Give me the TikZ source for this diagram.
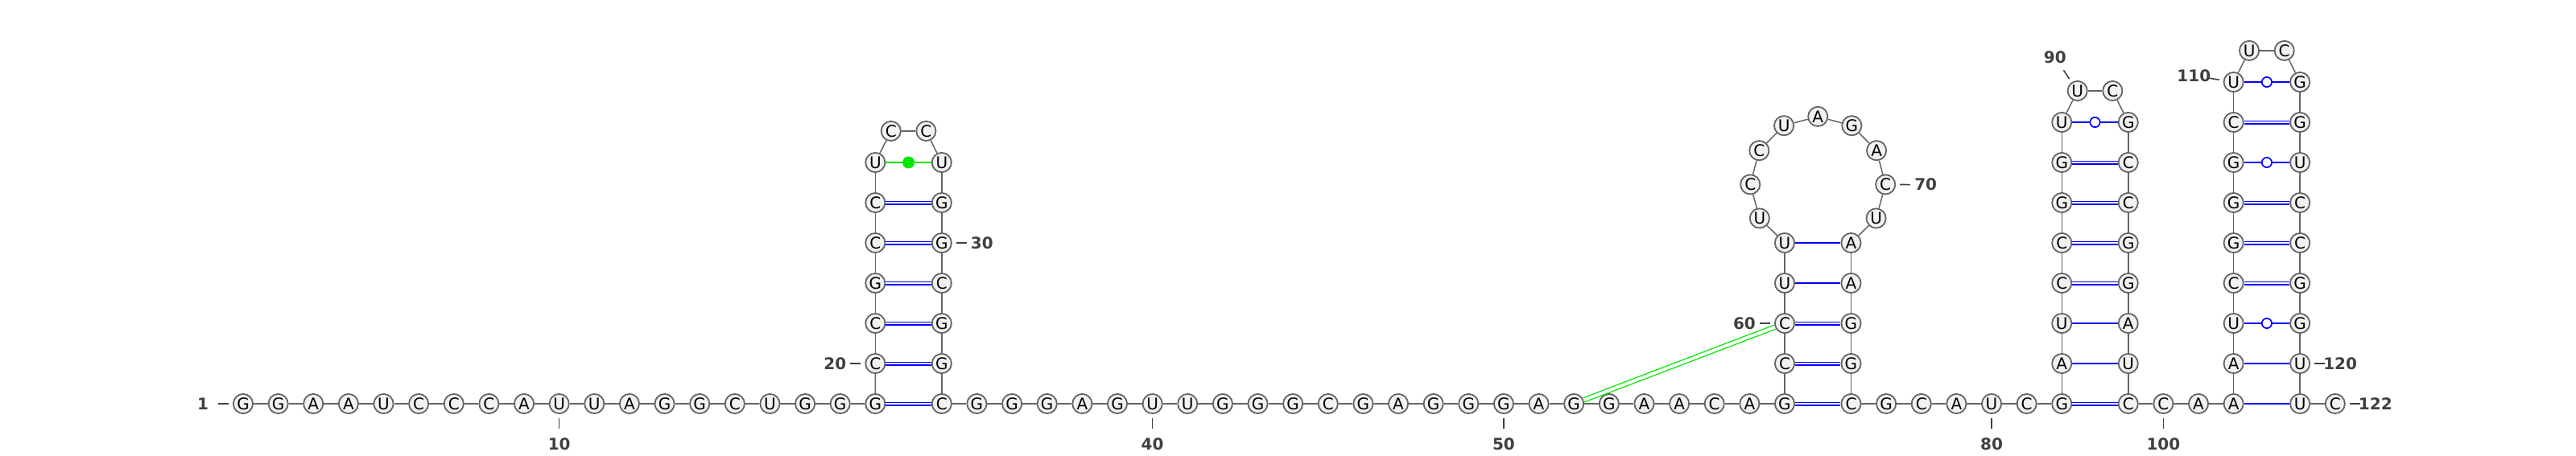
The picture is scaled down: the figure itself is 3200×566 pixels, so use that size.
\documentclass[tikz,border=0pt]{standalone}
\usepackage{fontspec}
\setmainfont{DejaVu Sans}
\usetikzlibrary{calc}
\definecolor{bbgray}{RGB}{100,100,100}
\definecolor{nfill}{RGB}{242,242,242}
\definecolor{numgray}{RGB}{64,64,64}
\definecolor{pairblue}{RGB}{0,0,255}
\definecolor{pkgreen}{RGB}{0,230,0}
\newcommand{\numlabel}[3]{%
  \coordinate (ta#3) at ($(#1)+(#2:18)$);
  \coordinate (tb#3) at ($(#1)+(#2:31)$);
  \draw[tickline] (ta#3) -- (tb#3);
  \node[numlab] (lab#3) at ($(#1)+(#2:50)$) {#3};}
\begin{document}
\begin{tikzpicture}[x=1pt,y=-1pt,
  base/.style={circle,draw=bbgray,fill=nfill,line width=1.8pt,minimum size=24.2pt,inner sep=0pt,font=\fontsize{20}{22}\selectfont},
  backbone/.style={draw=bbgray,line width=1.5pt},
  pairsingle/.style={draw=pairblue,line width=1.8pt},
  pairdouble/.style={draw=pairblue,line width=1.3pt,double=white,double distance=2.4pt},
  pkline/.style={draw=pkgreen,line width=1.8pt},
  pkdouble/.style={draw=pkgreen,line width=1.3pt,double=white,double distance=4pt},
  wob/.style={circle,draw=pairblue,fill=white,line width=1.7pt,minimum size=12.3pt,inner sep=0pt},
  gdot/.style={circle,fill=pkgreen,minimum size=15pt,inner sep=0pt},
  numlab/.style={font=\fontsize{20}{22}\selectfont\bfseries,text=numgray,inner sep=0pt},
  tickline/.style={draw=numgray,line width=1.6pt}]
\useasboundingbox (0,0) rectangle (3200,566);
% 1..19
\foreach \b [count=\i from 1] in {G,G,A,A,U,C,C,C,A,U,U,A,G,G,C,U,G,G,G}
  \node[base] (n\i) at ({302+(\i-1)*43.63},502) {\b};
% stem 1
\foreach \b [count=\i from 20] in {C,C,G,C,C,U}
  \node[base] (n\i) at (1087.34,{502-(\i-19)*50}) {\b};
\node[base] (n26) at (1106.78,162.94) {C};
\node[base] (n27) at (1150.40,162.94) {C};
\foreach \b [count=\i from 28] in {U,G,G,C,G,G,C}
  \node[base] (n\i) at (1169.84,{202+(\i-28)*50}) {\b};
% 35..57
\foreach \b [count=\i from 35] in {G,G,G,A,G,U,U,G,G,G,C,G,A,G,G,G,A,G,G,A,A,C,A}
  \node[base] (n\i) at ({1169.84+(\i-34)*43.63},502) {\b};
% stem 2
\foreach \b [count=\i from 58] in {G,C,C,U,U}
  \node[base] (n\i) at (2216.96,{502-(\i-58)*50}) {\b};
\foreach \b [count=\i from 63] in {U,C,C,U,A,G,A,C,U}
  \node[base] (n\i) at ($(2258.21,228.86)+({119.42+(\i-62)*30.117}:83.97)$) {\b};
\foreach \b [count=\i from 72] in {A,A,G,G,C}
  \node[base] (n\i) at (2299.46,{302+(\i-72)*50}) {\b};
% 77..81
\foreach \b [count=\i from 77] in {G,C,A,U,C}
  \node[base] (n\i) at ({2299.46+(\i-76)*43.63},502) {\b};
% stem 3
\foreach \b [count=\i from 82] in {G,A,U,C,C,G,G,U}
  \node[base] (n\i) at (2561.24,{502-(\i-82)*50}) {\b};
\node[base] (n90) at (2580.68,112.94) {U};
\node[base] (n91) at (2624.30,112.94) {C};
\foreach \b [count=\i from 92] in {G,C,C,G,G,A,U,C}
  \node[base] (n\i) at (2643.74,{152+(\i-92)*50}) {\b};
% 100..101
\foreach \b [count=\i from 100] in {C,A}
  \node[base] (n\i) at ({2643.74+(\i-99)*43.63},502) {\b};
% stem 4
\foreach \b [count=\i from 102] in {A,A,U,C,G,G,G,C,U}
  \node[base] (n\i) at (2774.63,{502-(\i-102)*50}) {\b};
\node[base] (n111) at (2794.07,62.94) {U};
\node[base] (n112) at (2837.69,62.94) {C};
\foreach \b [count=\i from 113] in {G,G,U,C,C,G,G,U,U}
  \node[base] (n\i) at (2857.13,{102+(\i-113)*50}) {\b};
\node[base] (n122) at (2900.76,502) {C};
% backbone
\foreach \i [evaluate=\i as \j using int(\i+1)] in {1,...,121}
  \draw[backbone] (n\i) -- (n\j);
% canonical GC pairs
\foreach \a/\c in {19/34,20/33,21/32,22/31,23/30,24/29,58/76,59/75,60/74,82/99,85/96,86/95,87/94,88/93,105/118,106/117,107/116,109/114}
  \draw[pairdouble] (n\a) -- (n\c);
% AU pairs
\foreach \a/\c in {61/73,62/72,83/98,84/97,102/121,103/120}
  \draw[pairsingle] (n\a) -- (n\c);
% GU wobble pairs
\foreach \a/\c in {89/92,104/119,108/115,110/113}
  \draw[pairsingle] (n\a) -- (n\c) node[wob,midway] (w\a) {};
% non-canonical U-U
\draw[pkline] (n25) -- (n28) node[gdot,midway] (g25) {};
% tertiary pair
\draw[pkdouble] (n52) -- (n60);
% numbering
\numlabel{n1}{180}{1}
\numlabel{n10}{90}{10}
\numlabel{n20}{180}{20}
\numlabel{n30}{0}{30}
\numlabel{n40}{90}{40}
\numlabel{n50}{90}{50}
\numlabel{n60}{180}{60}
\numlabel{n70}{0.35}{70}
\numlabel{n80}{90}{80}
\numlabel{n90}{236}{90}
\numlabel{n100}{90}{100}
\numlabel{n110}{189}{110}
\numlabel{n120}{0}{120}
\numlabel{n122}{0}{122}
\end{tikzpicture}
\end{document}
